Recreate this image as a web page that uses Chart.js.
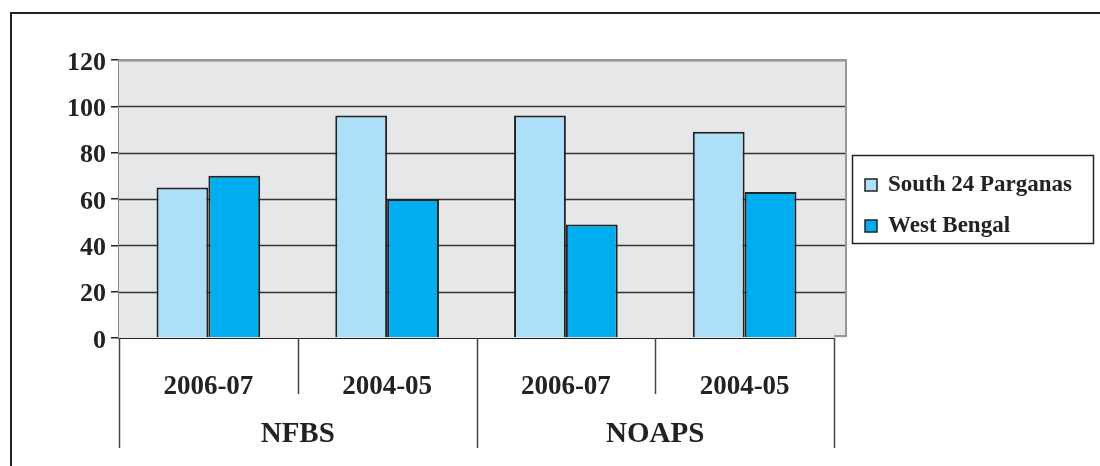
<!DOCTYPE html>
<html>
<head>
<meta charset="utf-8">
<script src="https://cdn.jsdelivr.net/npm/chart.js@4/dist/chart.umd.min.js"></script>
<style>
  html, body { margin: 0; padding: 0; background: #fff; }
  #wrap { position: relative; width: 1100px; height: 466px; }
</style>
</head>
<body>
<div id="wrap"><canvas id="benefit_chart"></canvas></div>
<script>
const years = ['2006-07', '2004-05', '2006-07', '2004-05'];
const schemes = ['NFBS', 'NOAPS'];
const south24 = [65, 96, 96, 89];
const westBengal = [70, 60, 49, 63];
const yTicks = [0, 20, 40, 60, 80, 100, 120];

const serif = '"Liberation Serif", "DejaVu Serif", serif';

// background, grid, frame, group labels and legend box
const decor = {
    id: 'decor',
    beforeDatasetsDraw(chart) {
        const ctx = chart.ctx;
        const a = chart.chartArea;
        const y = chart.scales.y;
        const ext = a.right + 12;
        ctx.save();
        ctx.fillStyle = '#e6e7e9';
        ctx.fillRect(a.left, a.top, ext - a.left, a.bottom - a.top);
        ctx.strokeStyle = '#333';
        ctx.lineWidth = 1.5;
        yTicks.forEach(v => {
            if (v === 0) return;
            const py = Math.round(y.getPixelForValue(v)) + 0.5;
            ctx.beginPath();
            ctx.moveTo(a.left, py);
            ctx.lineTo(ext, py);
            ctx.stroke();
        });
        ctx.strokeStyle = '#999';
        ctx.lineWidth = 2;
        ctx.beginPath();
        ctx.moveTo(a.left, a.top);
        ctx.lineTo(ext, a.top);
        ctx.lineTo(ext, a.bottom - 2);
        ctx.lineTo(a.right, a.bottom - 2);
        ctx.stroke();
        ctx.restore();
    },
    afterDraw(chart) {
        const ctx = chart.ctx;
        const a = chart.chartArea;
        const x = chart.scales.x;
        const half = (x.getPixelForValue(1) - x.getPixelForValue(0)) / 2;
        ctx.save();
        // outer frame
        ctx.strokeStyle = '#222';
        ctx.lineWidth = 2;
        ctx.beginPath();
        ctx.moveTo(11, 466);
        ctx.lineTo(11, 13);
        ctx.lineTo(1100, 13);
        ctx.stroke();
        // category separators
        ctx.strokeStyle = '#444';
        ctx.lineWidth = 1.5;
        for (let i = 0; i <= years.length; i++) {
            const px = Math.round(x.getPixelForValue(i) - half) + 0.5;
            const long = i % 2 === 0;
            ctx.beginPath();
            ctx.moveTo(px, a.bottom);
            ctx.lineTo(px, long ? 448 : 394);
            ctx.stroke();
        }
        // scheme labels
        ctx.fillStyle = '#222';
        ctx.font = 'bold 29px ' + serif;
        ctx.textAlign = 'center';
        ctx.textBaseline = 'middle';
        schemes.forEach((s, k) => {
            const cx = (x.getPixelForValue(2 * k) + x.getPixelForValue(2 * k + 1)) / 2;
            ctx.fillText(s, cx, 435);
        });
        // legend
        ctx.strokeStyle = '#222';
        ctx.lineWidth = 1.5;
        ctx.strokeRect(852.5, 155.5, 241, 88);
        ctx.font = 'bold 23px ' + serif;
        ctx.textAlign = 'left';
        chart.data.datasets.forEach((ds, i) => {
            const ly = 185 + i * 41;
            ctx.fillStyle = ds.backgroundColor;
            ctx.fillRect(865, ly - 6, 12, 12);
            ctx.lineWidth = 1.5;
            ctx.strokeRect(865, ly - 6, 12, 12);
            ctx.fillStyle = '#222';
            ctx.fillText(ds.label, 888, ly);
        });
        ctx.restore();
    }
};

function prepareChart()
{
    const data = {
        labels: years,
        datasets: [{
            label: 'South 24 Parganas',
            backgroundColor: '#addff8',
            borderColor: '#222',
            borderWidth: 2,
            data: south24
        }, {
            label: 'West Bengal',
            backgroundColor: '#00aeef',
            borderColor: '#222',
            borderWidth: 2,
            data: westBengal
        }]
    };

    const config = {
        type: 'bar',
        data: data,
        options: {
            responsive: true,
            maintainAspectRatio: false,
            animation: false,
            layout: { padding: { top: 60, right: 266, left: 0, bottom: 0 } },
            datasets: { bar: { categoryPercentage: 0.58, barPercentage: 1 } },
            plugins: { legend: { display: false }, tooltip: { enabled: false } },
            scales: {
                x: {
                    afterFit: s => { s.height = 128; },
                    grid: { display: false },
                    border: { display: true, color: '#222', width: 2 },
                    ticks: {
                        color: '#222',
                        padding: 25,
                        font: { family: serif, size: 27, weight: 'bold' }
                    }
                },
                y: {
                    min: 0,
                    max: 120,
                    afterFit: s => { s.width = 119; },
                    afterBuildTicks: s => { s.ticks = yTicks.map(v => ({ value: v })); },
                    grid: { drawOnChartArea: false, drawTicks: true, tickLength: 8, color: '#222', lineWidth: 1.5 },
                    border: { display: true, color: '#888', width: 2 },
                    ticks: {
                        color: '#222',
                        padding: 5,
                        labelOffset: 3,
                        font: { family: serif, size: 26, weight: 'bold' }
                    }
                }
            }
        },
        plugins: [decor]
    };

    new Chart(document.getElementById('benefit_chart'), config);
}

window.addEventListener('load', prepareChart);
</script>
</body>
</html>
